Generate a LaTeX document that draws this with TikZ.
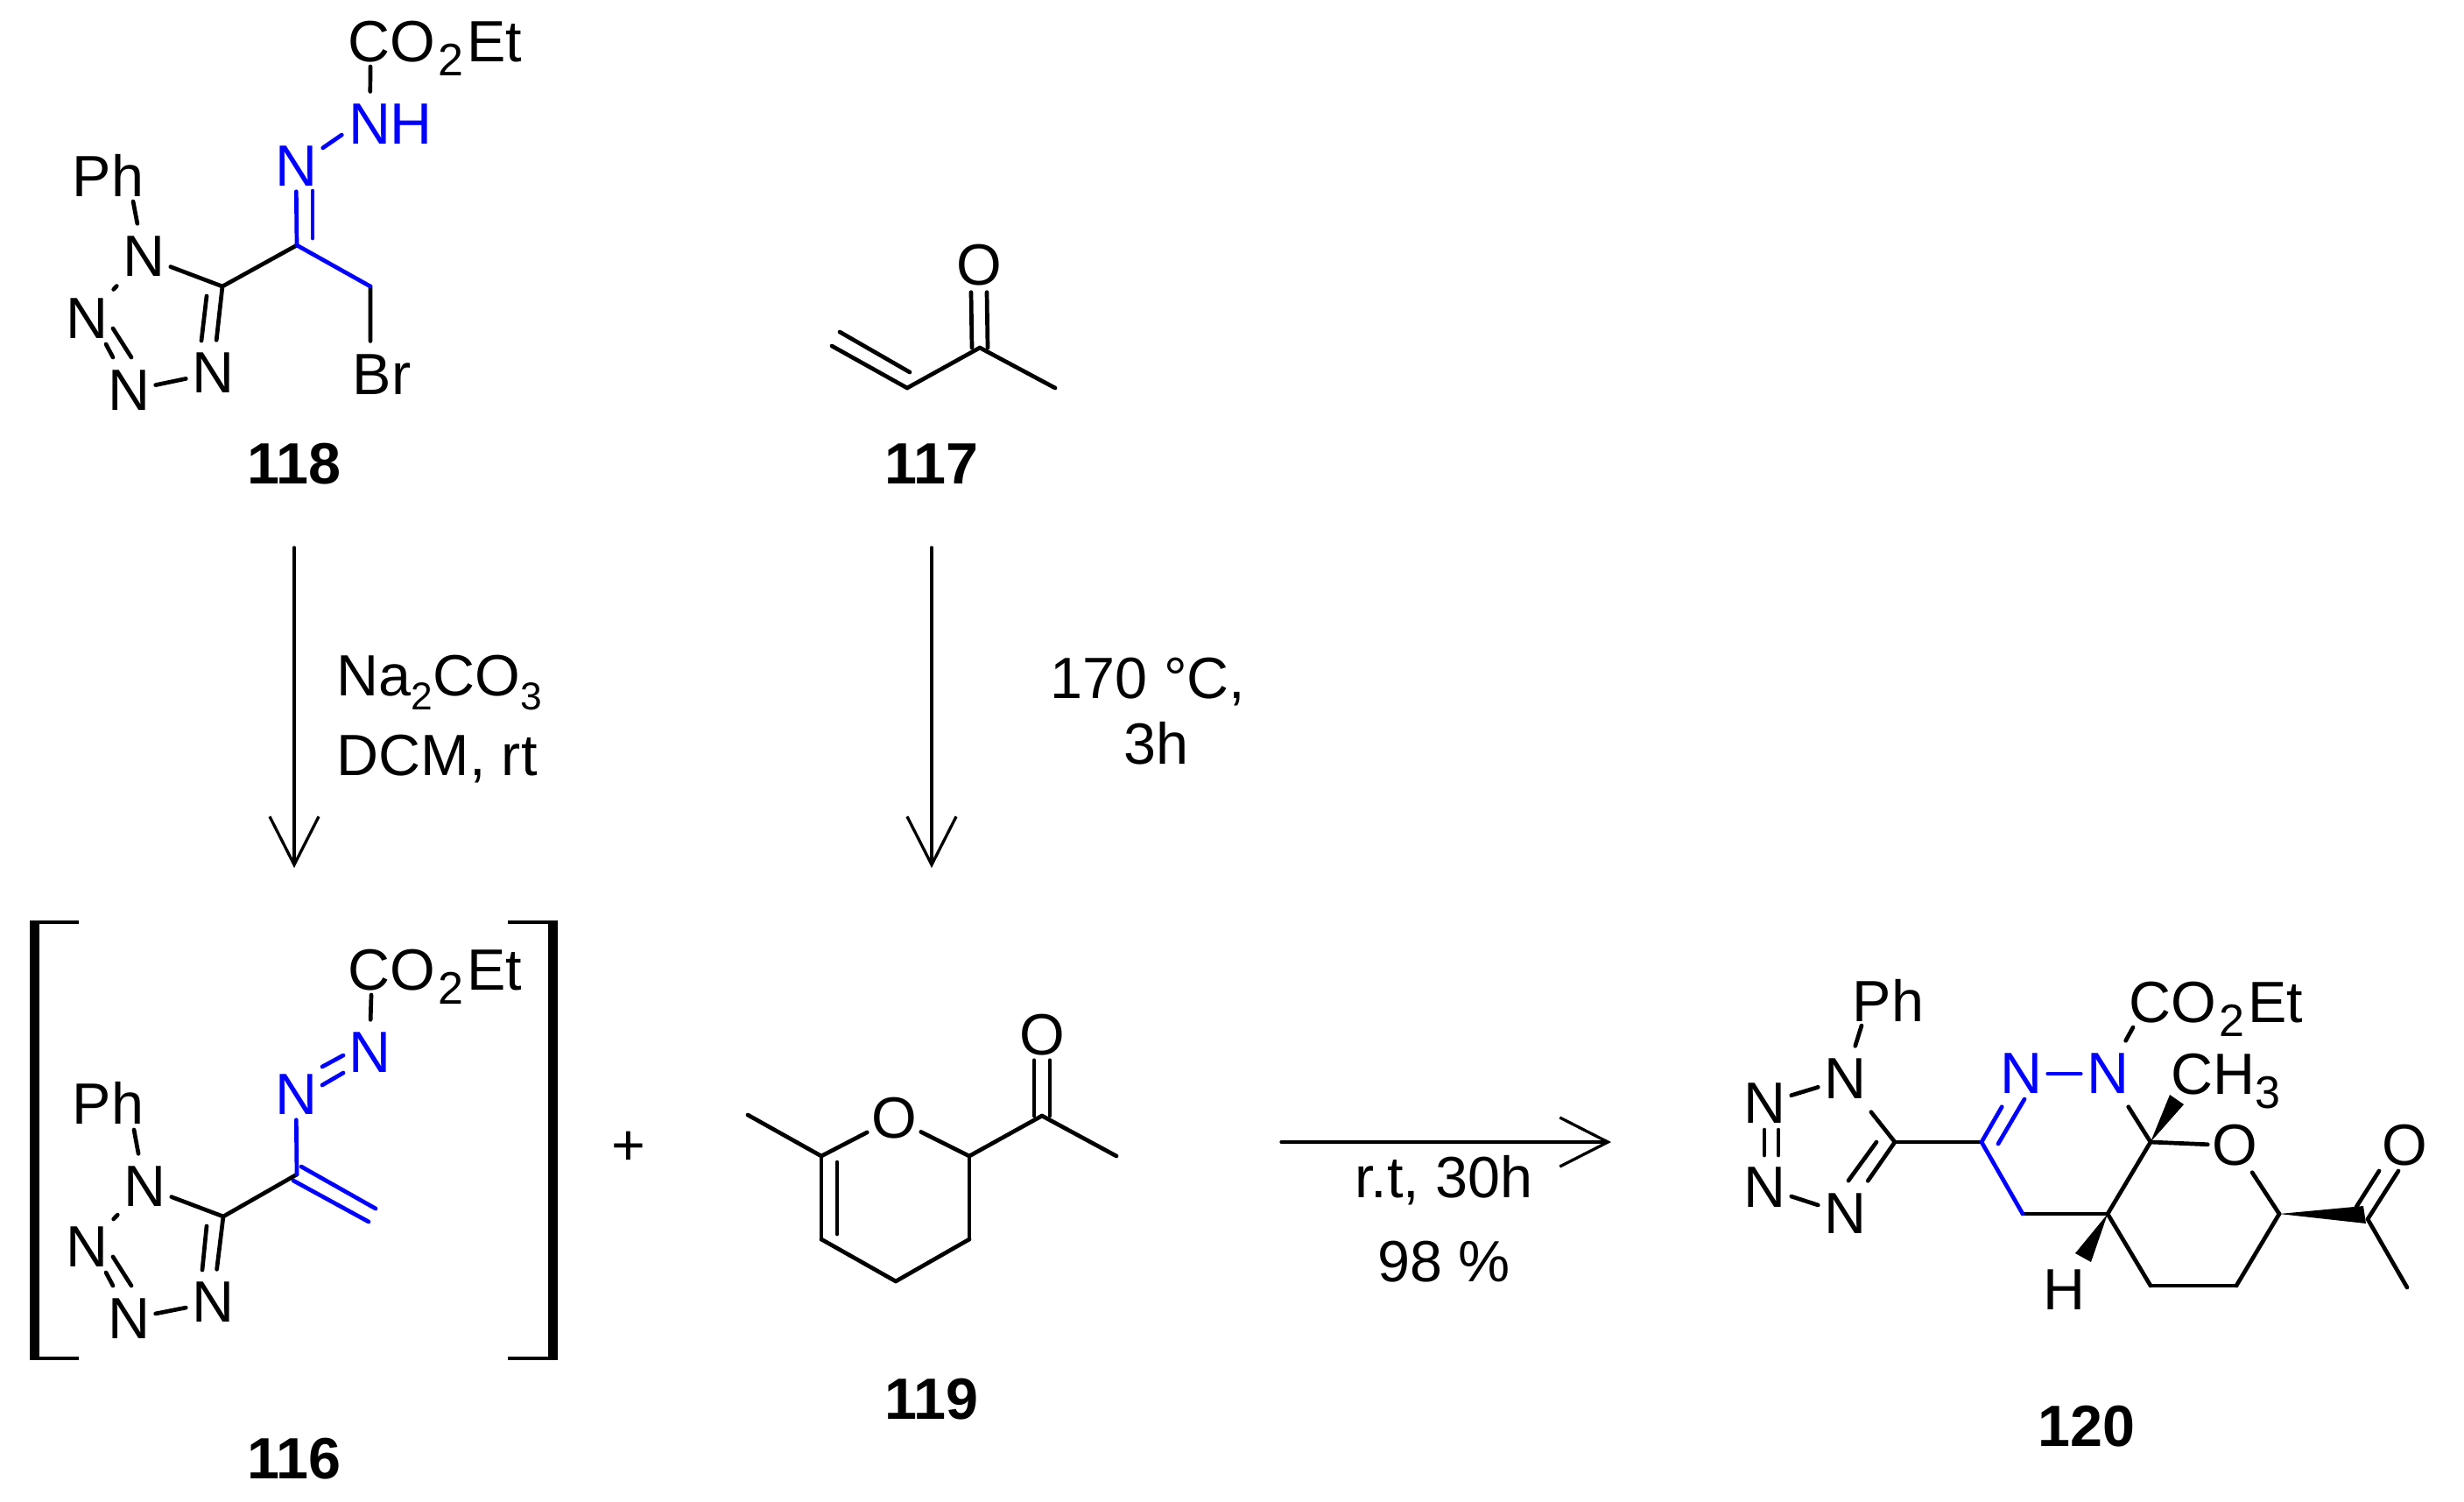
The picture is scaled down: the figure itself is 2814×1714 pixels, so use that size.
\documentclass[tikz,border=0pt]{standalone}
\usepackage{fontspec}
\setmainfont{Liberation Sans}
\usetikzlibrary{arrows.meta}
\newcommand{\chemsub}[2][14.8]{\raisebox{-0.165cm}{\fontsize{#1}{#1}\selectfont #2}}
\newcommand{\coet}{CO\kern0.03cm\chemsub{2}\kern0.04cm Et}
\tikzset{
  chem/.style={font=\fontsize{18.9}{22}\selectfont},
  txt/.style={chem, inner sep=0},
  atom/.style={chem, inner sep=0, minimum width=0.6cm, minimum height=0.74cm},
  atomb/.style={chem, inner sep=0, minimum width=0.6cm, minimum height=0.56cm},
  oxo/.style={chem, inner sep=0, minimum width=0.6cm, minimum height=0.6cm},
  cmpd/.style={txt, font=\fontsize{18.9}{22}\selectfont\bfseries},
  bond/.style={line width=0.047cm, line cap=round},
  rxn/.style={line width=0.033cm, line cap=round, -{Straight Barb[length=0.55cm,width=0.56cm]}}
}
\begin{document}
\begin{tikzpicture}[x=0.01cm, y=-0.01cm]
  \useasboundingbox (0,0) rectangle (2814,1714);

  % 118
  \node[atom] (r-n1) at (164,293) {N};
  \node[atom] (r-n2) at (99,364) {N};
  \node[atom] (r-n3) at (147,446) {N};
  \node[atom] (r-n4) at (243,426) {N};
  \node[atomb, blue] (r-n5) at (338,190) {N};
  \node[chem, blue, inner xsep=0.07cm, inner ysep=0.14cm] (r-nh) at (446,142) {NH};
  \node[txt, anchor=base west] (r-co) at (397,70) {\coet};
  \node[txt, anchor=base west] (r-ph) at (82,224) {Ph};
  \node[chem, inner xsep=0, inner ysep=0.15cm] (r-br) at (436,428) {Br};
  \node[cmpd] (r-lbl) at (336,530) {118};
  \coordinate (r-c5) at (254,327);
  \coordinate (r-c6) at (339,280);
  \coordinate (r-c7) at (423,327);
  \path[bond]
  ([xshift=0.70cm, yshift=-0.06cm]r-ph.base west) edge (r-n1)
  (r-n1) edge (r-n2)
  (r-n1) edge (r-c5)
  (r-n3) edge (r-n4)
  (r-c5) edge (r-n4)
  (236,338) edge (230,389)
  (129,375) edge (150,408)
  (121,393) edge (129,408)
  (r-c5) edge (r-c6)
  (r-c7) edge ([xshift=-0.13cm]r-br.north)
  ([xshift=0.26cm, yshift=-0.06cm]r-co.base west) edge ([xshift=0.325cm]r-nh.north west)
  ;
  \path[bond, blue]
  (r-n5) edge (r-c6)
  (357,218) edge (357,272)
  (r-c6) edge (r-c7)
  (r-n5) edge ([yshift=-0.12cm]r-nh.west)
  ;

  % 117
  \node[oxo] (e-o) at (1118,303) {O};
  \node[cmpd] (e-lbl) at (1064,530) {117};
  \coordinate (e-c1) at (950,395);
  \coordinate (e-c2) at (1036,443);
  \coordinate (e-c3) at (1119,397);
  \coordinate (e-c4) at (1205,443);
  \coordinate (e-c1b) at (959,379);
  \coordinate (e-c2b) at (1039,425);
  \path[bond]
  (e-c1) edge (e-c2)
  (e-c1b) edge (e-c2b)
  (e-c2) edge (e-c3)
  (e-c3) edge (e-c4)
  ([xshift=-0.09cm]e-o.south) edge ([xshift=-0.09cm]e-c3)
  ([xshift=0.09cm]e-o.south) edge ([xshift=0.09cm]e-c3)
  ;

  % arrows and conditions
  \coordinate (a1s) at (336,625);
  \coordinate (a1e) at (336,991);
  \coordinate (a2s) at (1064,625);
  \coordinate (a2e) at (1064,991);
  \coordinate (a3s) at (1463,1304);
  \coordinate (a3e) at (1840,1304);
  \path[rxn] (a1s) edge (a1e);
  \path[rxn] (a2s) edge (a2e);
  \path[rxn] (a3s) edge (a3e);
  \node[txt, anchor=base west] (c1) at (384,794) {Na\chemsub[12.6]{2}CO\chemsub[12.6]{3}};
  \node[txt, anchor=base west] (c2) at (384,885) {DCM, rt};
  \node[txt, anchor=base] (c3) at (1311,797) {170 °C,};
  \node[txt, anchor=base] (c4) at (1320,872) {3h};
  \node[txt, anchor=base] (c5) at (1649,1367) {r.t, 30h};
  \node[txt, anchor=base] (c6) at (1649,1463) {98 \%};
  \node[txt] (plus) at (718,1311) {+};

  % 116
  \draw[line width=0.045cm] (90,1053) -- (40,1053) (40,1551) -- (90,1551);
  \draw[line width=0.045cm] (580,1053) -- (631,1053) (631,1551) -- (580,1551);
  \draw[line width=0.105cm] (39.5,1051) -- (39.5,1553);
  \draw[line width=0.105cm] (631.5,1051) -- (631.5,1553);
  \node[atom] (i-n1) at (165,1355) {N};
  \node[atom] (i-n2) at (99,1424) {N};
  \node[atom] (i-n3) at (147,1506) {N};
  \node[atom] (i-n4) at (243,1487) {N};
  \node[atomb, blue] (i-n5) at (338,1250) {N};
  \node[atom, blue] (i-n6) at (422,1202) {N};
  \node[txt, anchor=base west] (i-co) at (397,1130) {\coet};
  \node[txt, anchor=base west] (i-ph) at (82,1283) {Ph};
  \node[cmpd] (i-lbl) at (336,1666) {116};
  \coordinate (i-c5) at (255,1389);
  \coordinate (i-c6) at (339,1341);
  \path[bond]
  ([xshift=0.71cm, yshift=-0.07cm]i-ph.base west) edge (i-n1)
  (i-n1) edge (i-n2)
  (i-n1) edge (i-c5)
  (i-n3) edge (i-n4)
  (i-c5) edge (i-n4)
  (236,1400) edge (231,1450)
  (129,1435) edge (150,1468)
  (121,1453) edge (129,1468)
  (i-c5) edge (i-c6)
  ([xshift=0.27cm, yshift=-0.06cm]i-co.base west) edge (i-n6)
  ;
  \path[bond, blue]
  (i-n5) edge (i-c6)
  (368,1218) edge (392,1205)
  (368,1239) edge (392,1225)
  (344,1332) edge (429,1380)
  (335,1348) edge (421,1395)
  ;

  % 119
  \node[oxo] (d-o1) at (1021,1277) {O};
  \node[atomb] (d-o2) at (1190,1182) {O};
  \node[cmpd] (d-lbl) at (1064,1598) {119};
  \coordinate (d-me) at (854,1273);
  \coordinate (d-c1) at (938,1320);
  \coordinate (d-c2) at (1107,1320);
  \coordinate (d-c3) at (1107,1415);
  \coordinate (d-c4) at (1023,1463);
  \coordinate (d-c5) at (938,1415);
  \coordinate (d-c6) at (1190,1274);
  \coordinate (d-c7) at (1275,1320);
  \path[bond]
  (d-me) edge (d-c1)
  (d-c1) edge (d-o1)
  (d-o1) edge (d-c2)
  (d-c2) edge (d-c3)
  (d-c3) edge (d-c4)
  (d-c4) edge (d-c5)
  (d-c5) edge (d-c1)
  (956,1327) edge (956,1409)
  (d-c2) edge (d-c6)
  (d-c6) edge (d-c7)
  ([xshift=-0.09cm]d-o2.south) edge ([xshift=-0.09cm]d-c6)
  ([xshift=0.09cm]d-o2.south) edge ([xshift=0.09cm]d-c6)
  ;

  % 120
  \node[atom] (p-n1) at (2107,1232) {N};
  \node[atom] (p-n2) at (2015,1260) {N};
  \node[atom] (p-n3) at (2015,1356) {N};
  \node[atom] (p-n4) at (2107,1386) {N};
  \node[atom, blue] (p-n5) at (2308,1226) {N};
  \node[atom, blue] (p-n6) at (2407,1226) {N};
  \node[oxo] (p-o1) at (2552,1308) {O};
  \node[oxo] (p-o2) at (2746,1308) {O};
  \node[txt, anchor=base west] (p-ph) at (2115,1166) {Ph};
  \node[txt, anchor=base west] (p-co) at (2431,1167) {\coet};
  \node[txt, anchor=base west] (p-me) at (2479,1249) {CH\chemsub{3}};
  \node[txt] (p-h) at (2357,1473) {H};
  \node[cmpd] (p-lbl) at (2383,1629) {120};
  \coordinate (p-c1) at (2164,1304);
  \coordinate (p-c2) at (2263,1304);
  \coordinate (p-c3) at (2310,1386);
  \coordinate (p-c4) at (2407,1386);
  \coordinate (p-c5) at (2456,1304);
  \coordinate (p-c6) at (2603,1386);
  \coordinate (p-c7) at (2554,1468);
  \coordinate (p-c8) at (2456,1468);
  \coordinate (p-c9) at (2704,1392);
  \coordinate (p-c10) at (2749,1470);
  \path[bond]
  ([xshift=0.11cm, yshift=-0.05cm]p-ph.base west) edge (p-n1)
  (p-n1) edge (p-n2)
  (p-n1) edge (p-c1)
  (p-c1) edge (p-n4)
  (2143,1304) edge (2111,1348)
  (p-n4) edge (p-n3)
  (2015,1290) edge (2015,1319)
  (2031,1290) edge (2031,1319)
  (p-c1) edge (p-c2)
  (p-c3) edge (p-c4)
  (p-c4) edge (p-c5)
  (p-n6) edge (p-c5)
  (p-c5) edge (p-o1)
  (p-o1) edge (p-c6)
  (p-c6) edge (p-c7)
  (p-c7) edge (p-c8)
  (p-c8) edge (p-c4)
  (p-c9) edge (p-c10)
  (p-c9) edge (2739,1337)
  (2691,1378) edge (2717,1337)
  ([xshift=0.05cm, yshift=-0.06cm]p-co.base west) edge (p-n6)
  ;
  \path[bond, blue]
  (p-n5) edge (p-n6)
  (p-c2) edge (p-n5)
  (2282,1306) edge (2312,1255)
  (p-c2) edge (p-c3)
  ;
  \fill (p-c5) -- (2478,1250) -- (2494,1261) -- cycle;
  \fill (p-c4) -- (2370,1431) -- (2388,1441) -- cycle;
  \fill (p-c6) -- (2699,1377) -- (2702,1397) -- cycle;
\end{tikzpicture}
\end{document}
